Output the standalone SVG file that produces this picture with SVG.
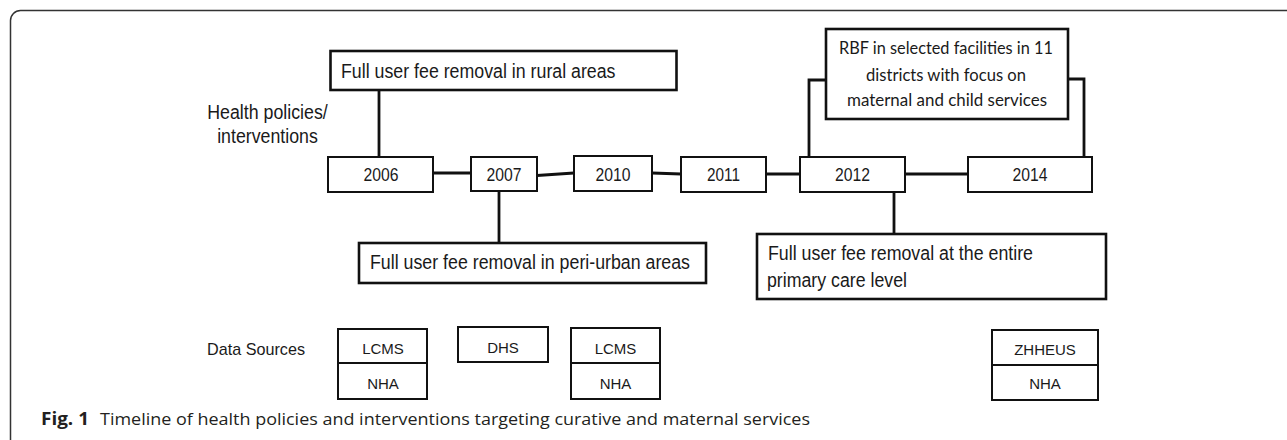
<svg xmlns="http://www.w3.org/2000/svg" width="1287" height="440" viewBox="0 0 1287 440">
<style>
  .box{fill:#fff;stroke:#111;stroke-width:2}
  .bx{fill:#fff;stroke:#111;stroke-width:2.6}
  .conn{fill:none;stroke:#111;stroke-width:2.8}
  .t{font-family:"Liberation Sans",Arial,sans-serif;fill:#1a1a1a}
  .big{font-size:20px}
  .yr{font-size:18px;text-anchor:middle}
  .ds{font-size:15px;text-anchor:middle}
  .rbf{font-family:Lato,"Open Sans",sans-serif;font-size:18px;fill:#1a1a1a;text-anchor:middle}
  .cap{font-family:"Open Sans","Noto Sans",sans-serif;font-size:17px;fill:#231f20}
</style>
<rect width="1287" height="440" fill="#fff"/>
<rect x="10.5" y="10.5" width="1400" height="500" rx="10" ry="10" fill="none" stroke="#333" stroke-width="1.5"/>

<text class="t big" x="267.5" y="119" text-anchor="middle" textLength="120.5" lengthAdjust="spacingAndGlyphs">Health policies/</text>
<text class="t big" x="267.5" y="143" text-anchor="middle" textLength="100.7" lengthAdjust="spacingAndGlyphs">interventions</text>
<text class="t" x="256" y="355" font-size="17" text-anchor="middle" textLength="98" lengthAdjust="spacingAndGlyphs">Data Sources</text>

<g id="connectors">
  <path class="conn" d="M379,90 V157"/>
  <path class="conn" d="M433,173 H471"/>
  <path class="conn" d="M537,175.5 L574,173"/>
  <path class="conn" d="M652,173 L681,174"/>
  <path class="conn" d="M766,174 H800"/>
  <path class="conn" d="M905,174 H968"/>
  <path class="conn" d="M499,191 V243"/>
  <path class="conn" d="M894,192 V234"/>
  <path class="conn" d="M826,80 H809 V157"/>
  <path class="conn" d="M1068,79 H1084 V157"/>
</g>

<g id="rural">
  <rect class="bx" x="330.5" y="51" width="346" height="39"/>
  <text class="t big" x="341" y="78" textLength="274.5" lengthAdjust="spacingAndGlyphs">Full user fee removal in rural  areas</text>
</g>
<g id="y2006">
  <rect class="box" x="328" y="157" width="105" height="35"/>
  <text class="t yr" x="381" y="181" textLength="35" lengthAdjust="spacingAndGlyphs">2006</text>
</g>
<g id="y2007">
  <rect class="box" x="471" y="157" width="66" height="34"/>
  <text class="t yr" x="504" y="181" textLength="35" lengthAdjust="spacingAndGlyphs">2007</text>
</g>
<g id="y2010">
  <rect class="box" x="574" y="156" width="78" height="35"/>
  <text class="t yr" x="613" y="180.5" textLength="35" lengthAdjust="spacingAndGlyphs">2010</text>
</g>
<g id="y2011">
  <rect class="box" x="681" y="157" width="85" height="35"/>
  <text class="t yr" x="723.5" y="181" textLength="33" lengthAdjust="spacingAndGlyphs">2011</text>
</g>
<g id="y2012">
  <rect class="box" x="800" y="157" width="105" height="35"/>
  <text class="t yr" x="852.5" y="181" textLength="35" lengthAdjust="spacingAndGlyphs">2012</text>
</g>
<g id="y2014">
  <rect class="box" x="968" y="157" width="124" height="35"/>
  <text class="t yr" x="1030" y="181" textLength="35" lengthAdjust="spacingAndGlyphs">2014</text>
</g>
<g id="rbf">
  <rect class="bx" x="826" y="29" width="242" height="90" stroke-width="3"/>
  <text class="rbf" x="946" y="54" textLength="214" lengthAdjust="spacingAndGlyphs">RBF in selected facilities in 11</text>
  <text class="rbf" x="946" y="81" textLength="160" lengthAdjust="spacingAndGlyphs">districts with focus on</text>
  <text class="rbf" x="947" y="106" textLength="200" lengthAdjust="spacingAndGlyphs">maternal and child services</text>
</g>
<g id="periurban">
  <rect class="bx" x="359" y="243" width="347" height="40"/>
  <text class="t big" x="370" y="269" textLength="320" lengthAdjust="spacingAndGlyphs">Full user fee removal in peri-urban areas</text>
</g>
<g id="primary">
  <rect class="bx" x="757" y="234" width="349" height="65"/>
  <text class="t big" x="768" y="260" textLength="265" lengthAdjust="spacingAndGlyphs">Full user fee removal at the entire</text>
  <text class="t big" x="767" y="286.5" textLength="140" lengthAdjust="spacingAndGlyphs">primary care level</text>
</g>

<g id="ds2006">
  <rect class="box" x="338" y="329" width="89" height="34"/>
  <rect class="box" x="338" y="363" width="89" height="36"/>
  <text class="t ds" x="383" y="354">LCMS</text>
  <text class="t ds" x="383" y="389">NHA</text>
</g>
<g id="ds2007">
  <rect class="box" x="458" y="327" width="90" height="35"/>
  <text class="t ds" x="503" y="353">DHS</text>
</g>
<g id="ds2010">
  <rect class="box" x="571" y="328" width="89" height="35"/>
  <rect class="box" x="571" y="363" width="89" height="36"/>
  <text class="t ds" x="615.5" y="354">LCMS</text>
  <text class="t ds" x="615.5" y="389">NHA</text>
</g>
<g id="ds2014">
  <rect class="box" x="992" y="330" width="106" height="35"/>
  <rect class="box" x="992" y="365" width="106" height="35"/>
  <text class="t ds" x="1045" y="355">ZHHEUS</text>
  <text class="t ds" x="1045" y="389">NHA</text>
</g>

<text class="cap" x="41" y="425" font-weight="bold" textLength="48" lengthAdjust="spacingAndGlyphs">Fig. 1</text>
<text class="cap" x="100" y="425" textLength="710" lengthAdjust="spacingAndGlyphs">Timeline of health policies and interventions targeting curative and maternal services</text>
</svg>
